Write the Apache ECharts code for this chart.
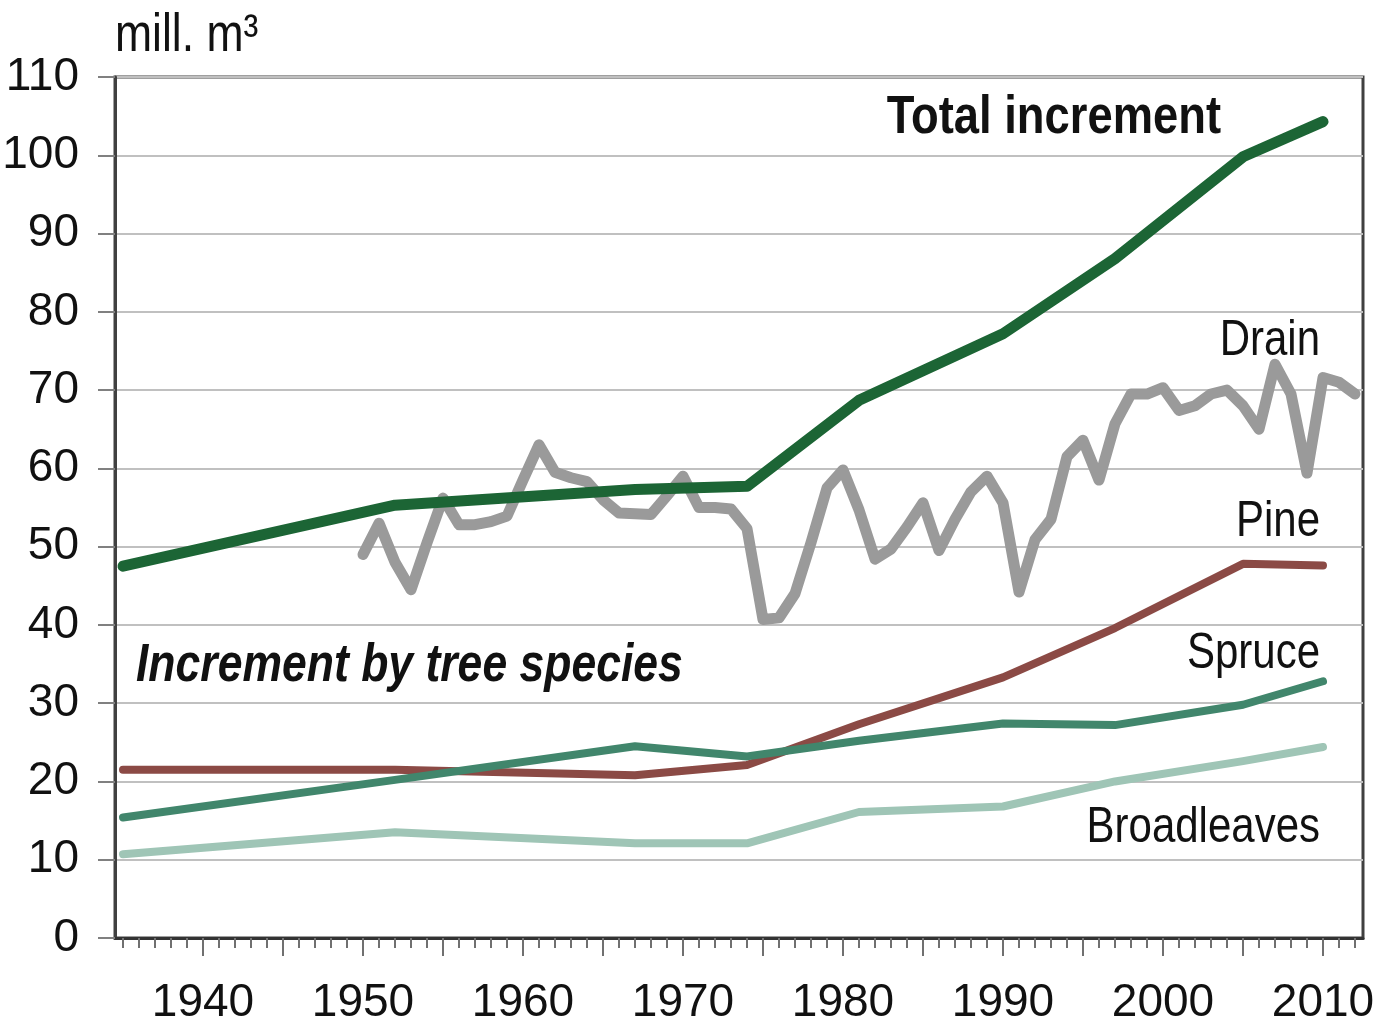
<!DOCTYPE html>
<html>
<head>
<meta charset="utf-8">
<script src="https://cdn.jsdelivr.net/npm/echarts@6/dist/echarts.min.js"></script>
<style>
  html, body { margin: 0; padding: 0; background: #fff; }
  #chart { width: 1387px; height: 1027px; }
</style>
</head>
<body>
<div id="chart"></div>
<script>
// inventory years used by the increment series
const years = [1935, 1952, 1967, 1974, 1981, 1990, 1997, 2005, 2010];
const totalIncrement = [47.5, 55.3, 57.3, 57.7, 68.7, 77.2, 86.8, 99.8, 104.3];
const pine = [21.5, 21.5, 20.8, 22.1, 27.3, 33.3, 39.6, 47.8, 47.6];
const spruce = [15.4, 20.2, 24.5, 23.2, 25.2, 27.4, 27.2, 29.8, 32.8];
const broadleaves = [10.7, 13.5, 12.1, 12.1, 16.1, 16.8, 20.0, 22.6, 24.4];

// yearly drain 1950-2012
const drainStart = 1950;
const drain = [
  49, 53, 48, 44.5, 50.5, 56.2, 52.8, 52.8, 53.2, 53.9,
  58.5, 63, 59.5, 58.8, 58.3, 56, 54.3, 54.2, 54.1, 56.5,
  59, 55, 55, 54.8, 52.3, 40.7, 40.9, 44, 50.5, 57.5,
  59.8, 54.7, 48.4, 49.7, 52.5, 55.6, 49.5, 53.5, 57, 59,
  55.6, 44.2, 50.9, 53.5, 61.5, 63.6, 58.5, 65.7, 69.5, 69.5,
  70.3, 67.4, 68, 69.5, 70, 68, 65, 73.3, 69.5, 59.4,
  71.6, 71, 69.5
];

const labelYears = [1940, 1950, 1960, 1970, 1980, 1990, 2000, 2010];
const majorTickYears = [1940, 1945, 1950, 1955, 1960, 1965, 1970, 1975, 1980, 1985, 1990, 1995, 2000, 2005, 2010];
const minorTickYears = [];
for (let y = 1935; y <= 2012; y++) minorTickYears.push(y);

const FONT = "'Liberation Sans Narrow', 'Arial Narrow', 'Liberation Sans', sans-serif";
// no narrow face installed, so free text is squeezed to look condensed
const SQUEEZE = 0.84;

function pairs(xs, ys) {
  return xs.map(function (x, i) { return [x, ys[i]]; });
}

const chart = echarts.init(document.getElementById("chart"));

function lineSeries(name, data, color, width, z) {
  return {
    name: name,
    type: "line",
    data: data,
    showSymbol: false,
    symbol: "none",
    z: z,
    lineStyle: { color: color, width: width, cap: "round", join: "round" },
    emphasis: { disabled: true }
  };
}

function label(text, x, y, opts) {
  return {
    type: "text",
    x: x,
    y: y,
    scaleX: SQUEEZE,
    z: 100,
    style: Object.assign({
      text: text,
      fontFamily: FONT,
      fontSize: 50,
      fill: "#111",
      align: "right",
      verticalAlign: "middle"
    }, opts || {})
  };
}

const option = {
  animation: false,
  backgroundColor: "#fff",
  grid: {
    left: 115,
    top: 77,
    right: 24,
    bottom: 89,
    outerBoundsMode: "none",
    containLabel: false,
    show: true,
    borderColor: "#404040",
    borderWidth: 3
  },
  xAxis: [
    {
      type: "value",
      min: 1934.5,
      max: 2012.5,
      position: "bottom",
      splitLine: { show: false },
      axisLine: { show: true, lineStyle: { color: "#333", width: 3 } },
      axisTick: {
        show: true,
        customValues: majorTickYears,
        length: 18,
        lineStyle: { color: "#707070", width: 2 }
      },
      axisLabel: {
        customValues: labelYears,
        formatter: function (v) { return String(v); },
        margin: 42,
        fontFamily: FONT,
        fontSize: 46,
        color: "#111"
      }
    },
    {
      type: "value",
      min: 1934.5,
      max: 2012.5,
      position: "bottom",
      splitLine: { show: false },
      axisLine: { show: false },
      axisTick: {
        show: true,
        customValues: minorTickYears,
        length: 10,
        lineStyle: { color: "#707070", width: 2 }
      },
      axisLabel: { show: false }
    }
  ],
  yAxis: {
    type: "value",
    min: 0,
    max: 110,
    interval: 10,
    axisLine: { show: true, lineStyle: { color: "#404040", width: 3 } },
    axisTick: { show: true, length: 17, lineStyle: { color: "#808080", width: 2 } },
    axisLabel: {
      margin: 36,
      fontFamily: FONT,
      fontSize: 46,
      color: "#111"
    },
    splitLine: { show: true, lineStyle: { color: "#c0c0c0", width: 2 } }
  },
  series: [
    lineSeries("Broadleaves", pairs(years, broadleaves), "#9fc5b6", 8, 2),
    lineSeries("Pine", pairs(years, pine), "#8b4a45", 8, 3),
    lineSeries("Spruce", pairs(years, spruce), "#41866c", 8, 4),
    lineSeries("Drain", drain.map(function (v, i) { return [drainStart + i, v]; }), "#9a9a9a", 11, 5),
    lineSeries("Total increment", pairs(years, totalIncrement), "#1c6535", 11, 6)
  ],
  graphic: [
    label("mill. m³", 115, 36, { align: "left", fontSize: 53 }),
    label("Total increment", 1221, 118, { fontWeight: "bold", fontSize: 54 }),
    label("Drain", 1320, 341),
    label("Pine", 1320, 522),
    label("Spruce", 1320, 654),
    label("Broadleaves", 1320, 828),
    label("Increment by tree species", 136, 666, {
      align: "left",
      fontWeight: "bold",
      fontStyle: "italic",
      fontSize: 53
    })
  ]
};

chart.setOption(option);
</script>
</body>
</html>
